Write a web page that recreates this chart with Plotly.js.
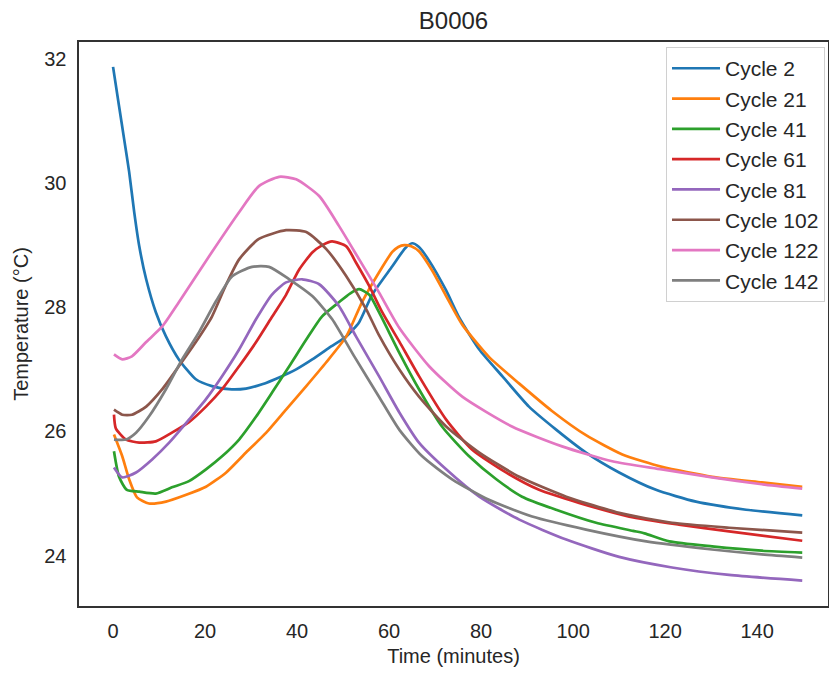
<!DOCTYPE html>
<html>
<head>
<meta charset="utf-8">
<script src="https://cdn.plot.ly/plotly-3.0.1.min.js"></script>
<style>
  html, body { margin: 0; padding: 0; background: #fff; }
  #chart { width: 829px; height: 675px; }
</style>
</head>
<body>
<div id="chart"></div>
<script>
// Battery B0006 surface temperature during discharge, selected cycles.
const cycleNames = ["Cycle 2", "Cycle 21", "Cycle 41", "Cycle 61", "Cycle 81", "Cycle 102", "Cycle 122", "Cycle 142"];
const cycleColors = ["#1f77b4", "#ff7f0e", "#2ca02c", "#d62728", "#9467bd", "#8c564b", "#e377c2", "#7f7f7f"];

// Time (minutes) and temperature (°C) samples per cycle
const c2Time = [0, 1.3, 2.4, 3.5, 4.6, 5.7, 7.2, 9.3, 11.5, 14.3, 18, 21.5, 25.2, 28.9, 32.4, 36.1, 39.8, 43.3, 47, 50.7, 53.5, 56.3, 60.7, 63.5, 65, 66.5, 68.7, 72.4, 75.2, 79.6, 84.6, 90.4, 96.3, 102.8, 110, 118, 126.7, 137.6, 149.8];
const c2Temp = [31.87, 31.24, 30.71, 30.18, 29.53, 28.98, 28.45, 27.92, 27.53, 27.16, 26.84, 26.73, 26.68, 26.69, 26.76, 26.87, 27.0, 27.16, 27.35, 27.53, 27.76, 28.2, 28.66, 28.95, 29.03, 28.97, 28.75, 28.27, 27.84, 27.32, 26.89, 26.4, 26.03, 25.66, 25.34, 25.06, 24.87, 24.74, 24.65];

const c21Time = [0.2, 2, 3.5, 5.2, 7.8, 11.5, 15.9, 20.2, 24.6, 28.9, 33.3, 37.6, 42, 46.3, 50.7, 54.1, 57.8, 60.7, 62, 63.3, 64.8, 66.5, 69.3, 72.4, 75.9, 81.7, 88.3, 95.4, 102.8, 110.7, 119.3, 130.2, 141, 149.8];
const c21Temp = [25.95, 25.6, 25.23, 24.94, 24.84, 24.87, 24.98, 25.11, 25.34, 25.66, 25.98, 26.35, 26.73, 27.11, 27.53, 28.08, 28.56, 28.89, 28.97, 29.0, 28.98, 28.9, 28.6, 28.18, 27.72, 27.2, 26.77, 26.33, 25.94, 25.63, 25.43, 25.27, 25.18, 25.11];

const c41Time = [0.2, 1.3, 3, 5.7, 9.3, 12.8, 16.5, 20.2, 23.7, 27.4, 31.1, 34.6, 38.3, 42, 45.4, 49.1, 51.5, 53.5, 55.7, 57.8, 62.2, 66.5, 71.5, 77.4, 83.3, 88.9, 96.3, 105, 113, 115.5, 120.9, 130.2, 141, 149.8];
const c41Temp = [25.68, 25.27, 25.06, 25.03, 25.0, 25.1, 25.2, 25.39, 25.6, 25.87, 26.24, 26.63, 27.05, 27.48, 27.85, 28.08, 28.22, 28.29, 28.2, 27.92, 27.27, 26.68, 26.08, 25.6, 25.23, 24.95, 24.74, 24.53, 24.4, 24.36, 24.23, 24.15, 24.08, 24.05];

const c61Time = [0.2, 0.6, 2.8, 5.7, 9.3, 12.8, 16.5, 20.2, 23.7, 27.4, 31.1, 34.6, 37.6, 40.4, 43.3, 45.5, 47.6, 50.7, 52.8, 55.7, 58.5, 62.2, 66.5, 72.4, 78, 85.4, 92.6, 101.3, 112.2, 123, 133.9, 149.8];
const c61Temp = [26.27, 26.05, 25.87, 25.82, 25.84, 25.98, 26.15, 26.4, 26.68, 27.05, 27.44, 27.85, 28.2, 28.6, 28.88, 29.0, 29.06, 28.98, 28.72, 28.34, 27.92, 27.45, 26.89, 26.19, 25.71, 25.34, 25.06, 24.85, 24.63, 24.5, 24.39, 24.24];

const c81Time = [0.2, 2, 5, 8.5, 12.2, 16.5, 20.2, 23.7, 27.4, 31.1, 34.5, 37.6, 41.1, 44.8, 49.1, 52.8, 57.8, 62.2, 66.5, 72.4, 79.6, 88.3, 98.5, 110, 121.5, 133.9, 149.8];
const c81Temp = [25.42, 25.26, 25.34, 25.55, 25.82, 26.19, 26.52, 26.89, 27.32, 27.81, 28.2, 28.4, 28.45, 28.37, 28.02, 27.53, 26.89, 26.31, 25.82, 25.39, 24.95, 24.58, 24.26, 23.98, 23.81, 23.69, 23.6];

const c102Time = [0.2, 2, 4.1, 7.2, 10.7, 14.3, 18, 21.5, 24.5, 27.4, 31.7, 37.6, 42, 46.3, 50.7, 55, 57.8, 62.2, 66.5, 72.4, 79.6, 88.3, 98.5, 110, 121.5, 133.9, 149.8];
const c102Temp = [26.35, 26.27, 26.27, 26.4, 26.68, 27.05, 27.44, 27.85, 28.35, 28.77, 29.1, 29.24, 29.21, 28.94, 28.5, 27.97, 27.55, 27.0, 26.56, 26.08, 25.66, 25.27, 24.95, 24.69, 24.53, 24.45, 24.37];

const c122Time = [0.2, 2, 4.1, 7.2, 10.7, 14.3, 21.5, 27.4, 31.7, 36.1, 39.8, 44.8, 49.1, 53.5, 57.8, 62.2, 68.7, 75.9, 86.7, 97.6, 108.5, 119.3, 130.2, 141, 149.8];
const c122Temp = [27.24, 27.16, 27.21, 27.44, 27.69, 28.08, 28.89, 29.53, 29.95, 30.1, 30.06, 29.79, 29.31, 28.77, 28.24, 27.67, 27.05, 26.56, 26.08, 25.76, 25.52, 25.39, 25.26, 25.15, 25.08];

const c142Time = [0.2, 2.8, 5, 7.8, 11.5, 15, 18.7, 22.4, 25.9, 30.2, 33.9, 38.3, 43.3, 47.6, 52.5, 57.8, 62.2, 67.2, 73.7, 81.7, 91.1, 102.8, 115.9, 130.2, 141, 149.8];
const c142Temp = [25.87, 25.87, 25.98, 26.24, 26.68, 27.16, 27.6, 28.1, 28.5, 28.65, 28.65, 28.45, 28.18, 27.81, 27.2, 26.56, 26.03, 25.6, 25.23, 24.9, 24.63, 24.42, 24.23, 24.1, 24.02, 23.97];

const allTimes = [c2Time, c21Time, c41Time, c61Time, c81Time, c102Time, c122Time, c142Time];
const allTemps = [c2Temp, c21Temp, c41Temp, c61Temp, c81Temp, c102Temp, c122Temp, c142Temp];

const textColor = "#262626";
const frameColor = "#333333";
const fontFamily = "Liberation Sans, Arial, sans-serif";

const traces = cycleNames.map((name, i) => ({
  type: "scatter",
  mode: "lines",
  name: name,
  legendgroup: "g" + i,
  x: allTimes[i],
  y: allTemps[i],
  line: { color: cycleColors[i], width: 2.7, shape: "spline", smoothing: 0.6 }
}));

const layout = {
  width: 829,
  height: 675,
  margin: { l: 79, r: 1, t: 42, b: 69 },
  paper_bgcolor: "#ffffff",
  plot_bgcolor: "#ffffff",
  font: { family: fontFamily, color: textColor, size: 20 },
  title: {
    text: "B0006",
    x: 0.5, xref: "paper", xanchor: "center",
    y: 0.969, yanchor: "middle",
    font: { size: 24, color: textColor, family: fontFamily }
  },
  xaxis: {
    title: { text: "Time (minutes)", font: { size: 20 }, standoff: 8 },
    range: [-7.4, 155.4],
    tickvals: [0, 20, 40, 60, 80, 100, 120, 140],
    ticks: "outside", ticklen: 6, tickcolor: "rgba(0,0,0,0)",
    showgrid: false, zeroline: false,
    showline: true, mirror: true, linecolor: frameColor, linewidth: 1.6,
    tickfont: { size: 20 }
  },
  yaxis: {
    title: { text: "Temperature (°C)", font: { size: 20 }, standoff: 10 },
    range: [23.19, 32.27],
    tickvals: [24, 26, 28, 30, 32],
    ticks: "outside", ticklen: 7, tickcolor: "rgba(0,0,0,0)",
    showgrid: false, zeroline: false,
    showline: true, mirror: true, linecolor: frameColor, linewidth: 1.6,
    tickfont: { size: 20 }
  },
  showlegend: true,
  legend: {
    x: 0.996, y: 0.991, xanchor: "right", yanchor: "top",
    bgcolor: "rgba(255,255,255,0.85)",
    bordercolor: "#d0d0d0", borderwidth: 1,
    font: { size: 21, color: textColor },
    itemwidth: 48,
    tracegroupgap: 0
  }
};

Plotly.newPlot("chart", traces, layout, { displayModeBar: false, staticPlot: true });
</script>
</body>
</html>
